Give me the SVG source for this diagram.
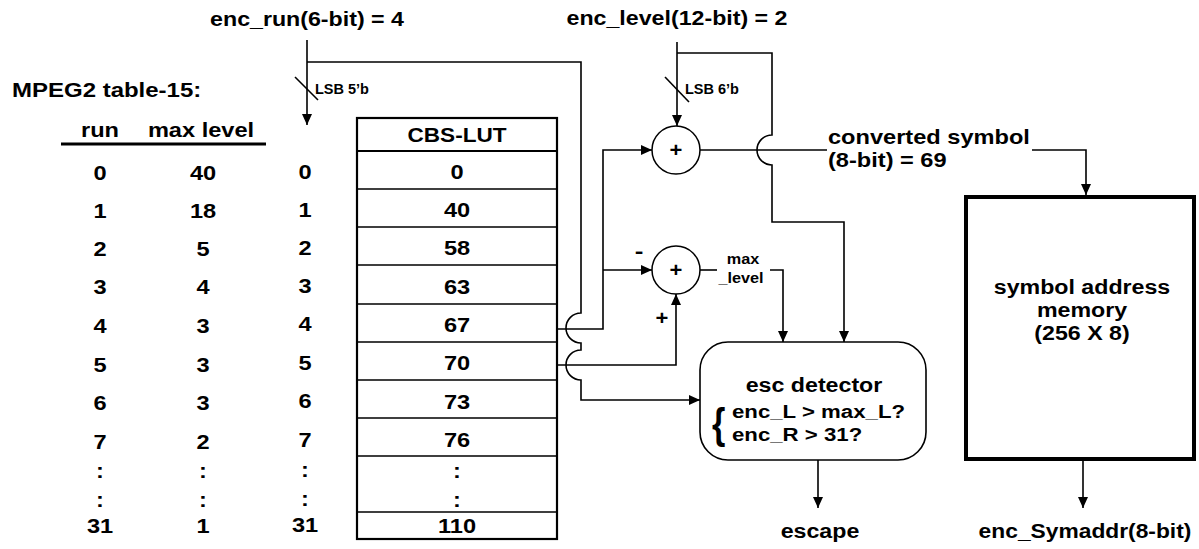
<svg xmlns="http://www.w3.org/2000/svg" width="1199" height="549" viewBox="0 0 1199 549">
<style>
text{font-family:"Liberation Sans",Arial,sans-serif;font-weight:bold;font-size:20px;fill:#000}
.m{text-anchor:middle}
.s{font-size:14.5px}
.e{font-size:19px}
.w{fill:none;stroke:#000;stroke-width:1.6}
.a{marker-end:url(#ah)}
.box{fill:#fff;stroke:#000;stroke-width:2.2}
.row{stroke:#000;stroke-width:1.5}
.circ{fill:#fff;stroke:#000;stroke-width:1.5}
</style>
<defs>
<marker id="ah" markerWidth="11" markerHeight="10" refX="11" refY="5" orient="auto" markerUnits="userSpaceOnUse"><path d="M0,0 L11,5 L0,10 z" fill="#000"/></marker>
</defs>
<rect width="1199" height="549" fill="#fff"/>

<g id="titles">
<text class="m" transform="translate(307 26) scale(1.16 1)">enc_run(6-bit) = 4</text>
<text class="m" transform="translate(677 25) scale(1.16 1)">enc_level(12-bit) = 2</text>
<text class="s" x="315" y="94">LSB 5’b</text>
<text class="s" x="685" y="94">LSB 6’b</text>
</g>

<g id="mpeg2-table">
<text transform="translate(12 97) scale(1.2 1)">MPEG2 table-15:</text>
<text class="m" transform="translate(100 137) scale(1.18 1)">run</text>
<text class="m" transform="translate(201 137) scale(1.18 1)">max level</text>
<path d="M61,144 H266" stroke="#000" stroke-width="3"/>
<g class="m">
<text transform="translate(100 180) scale(1.18 1)">0</text>
<text transform="translate(100 218) scale(1.18 1)">1</text>
<text transform="translate(100 256) scale(1.18 1)">2</text>
<text transform="translate(100 294) scale(1.18 1)">3</text>
<text transform="translate(100 333) scale(1.18 1)">4</text>
<text transform="translate(100 372) scale(1.18 1)">5</text>
<text transform="translate(100 410) scale(1.18 1)">6</text>
<text transform="translate(100 449) scale(1.18 1)">7</text>
<text transform="translate(100 478) scale(1.18 1)">:</text>
<text transform="translate(100 507) scale(1.18 1)">:</text>
<text transform="translate(100 533) scale(1.18 1)">31</text>
<text transform="translate(203 180) scale(1.18 1)">40</text>
<text transform="translate(203 218) scale(1.18 1)">18</text>
<text transform="translate(203 256) scale(1.18 1)">5</text>
<text transform="translate(203 294) scale(1.18 1)">4</text>
<text transform="translate(203 333) scale(1.18 1)">3</text>
<text transform="translate(203 372) scale(1.18 1)">3</text>
<text transform="translate(203 410) scale(1.18 1)">3</text>
<text transform="translate(203 449) scale(1.18 1)">2</text>
<text transform="translate(203 478) scale(1.18 1)">:</text>
<text transform="translate(203 507) scale(1.18 1)">:</text>
<text transform="translate(203 533) scale(1.18 1)">1</text>
</g>
</g>

<g id="index-column" class="m">
<text transform="translate(305 179) scale(1.18 1)">0</text>
<text transform="translate(305 217) scale(1.18 1)">1</text>
<text transform="translate(305 255) scale(1.18 1)">2</text>
<text transform="translate(305 293) scale(1.18 1)">3</text>
<text transform="translate(305 331) scale(1.18 1)">4</text>
<text transform="translate(305 370) scale(1.18 1)">5</text>
<text transform="translate(305 408) scale(1.18 1)">6</text>
<text transform="translate(305 447) scale(1.18 1)">7</text>
<text transform="translate(305 477) scale(1.18 1)">:</text>
<text transform="translate(305 506) scale(1.18 1)">:</text>
<text transform="translate(305 532) scale(1.18 1)">31</text>
</g>

<g id="cbs-lut">
<rect class="box" x="357" y="118" width="200" height="421"/>
<path d="M357,151 H557" stroke="#000" stroke-width="2.2"/>
<path class="row" d="M357,189 H557 M357,227 H557 M357,265 H557 M357,304 H557 M357,342 H557 M357,380 H557 M357,418 H557 M357,456 H557 M357,512 H557"/>
<g class="m">
<text transform="translate(457 142) scale(1.13 1)">CBS-LUT</text>
<text transform="translate(457 179) scale(1.18 1)">0</text>
<text transform="translate(457 217) scale(1.18 1)">40</text>
<text transform="translate(457 255) scale(1.18 1)">58</text>
<text transform="translate(457 294) scale(1.18 1)">63</text>
<text transform="translate(457 332) scale(1.18 1)">67</text>
<text transform="translate(457 370) scale(1.18 1)">70</text>
<text transform="translate(457 409) scale(1.18 1)">73</text>
<text transform="translate(457 447) scale(1.18 1)">76</text>
<text transform="translate(457 478) scale(1.18 1)">:</text>
<text transform="translate(457 507) scale(1.18 1)">:</text>
<text transform="translate(457 533) scale(1.18 1)">110</text>
</g>
</g>

<g id="adder-symbol">
<circle class="circ" cx="676" cy="150" r="24"/>
<text class="m" transform="translate(676 157) scale(1.1 1)">+</text>
</g>

<g id="adder-maxlevel">
<circle class="circ" cx="676" cy="270" r="24"/>
<text class="m" transform="translate(676 277) scale(1.1 1)">+</text>
<text class="m" transform="translate(639 258) scale(1.3 1)">-</text>
<text class="m" transform="translate(662 325) scale(1.1 1)">+</text>
<text class="s m" transform="translate(743 264) scale(1.12 1)">max</text>
<text class="s m" transform="translate(741 283) scale(1.12 1)">_level</text>
</g>

<g id="converted-symbol-label">
<text transform="translate(828 144) scale(1.18 1)">converted symbol</text>
<text transform="translate(828 167) scale(1.18 1)">(8-bit) = 69</text>
</g>

<g id="symbol-address-memory">
<rect x="966" y="197" width="228" height="262" fill="#fff" stroke="#000" stroke-width="4"/>
<g class="m">
<text transform="translate(1082 294) scale(1.16 1)">symbol address</text>
<text transform="translate(1082 317) scale(1.16 1)">memory</text>
<text transform="translate(1082 340) scale(1.16 1)">(256 X 8)</text>
</g>
</g>

<g id="esc-detector">
<rect x="700" y="342" width="226" height="118" rx="28" fill="#fff" stroke="#000" stroke-width="1.6"/>
<text class="m" transform="translate(814 392) scale(1.16 1)">esc detector</text>
<text transform="translate(712 438) scale(0.8 1)" style="font-size:43px">{</text>
<text class="e" transform="translate(732 418) scale(1.17 1)">enc_L &gt; max_L?</text>
<text class="e" transform="translate(732 441) scale(1.17 1)">enc_R &gt; 31?</text>
</g>

<g id="outputs" class="m">
<text transform="translate(820 538) scale(1.16 1)">escape</text>
<text transform="translate(1085 538) scale(1.14 1)">enc_Symaddr(8-bit)</text>
</g>

<g id="connectors">
<path class="w a" d="M307,40 V125"/>
<path class="w" d="M295,77 L318,100"/>
<path class="w a" d="M307,62 H581 V313 A15,15 0 0 0 581,343 V350 A15,15 0 0 0 581,380 V400 H700"/>
<path class="w a" d="M557,329 H603 V150 H652"/>
<path class="w a" d="M603,270 H652"/>
<path class="w a" d="M557,365 H676 V294"/>
<path class="w a" d="M677,42 V126"/>
<path class="w" d="M665,77 L689,102"/>
<path class="w a" d="M677,53 H772 V135 A15,15 0 0 0 772,165 V222 H844 V342"/>
<path class="w" d="M700,150 H827"/>
<path class="w a" d="M1032,150 H1086 V195"/>
<path class="w" d="M700,270 H717"/>
<path class="w a" d="M770,270 H783 V342"/>
<path class="w a" d="M818,460 V508"/>
<path class="w a" d="M1083,461 V508"/>
</g>
</svg>
